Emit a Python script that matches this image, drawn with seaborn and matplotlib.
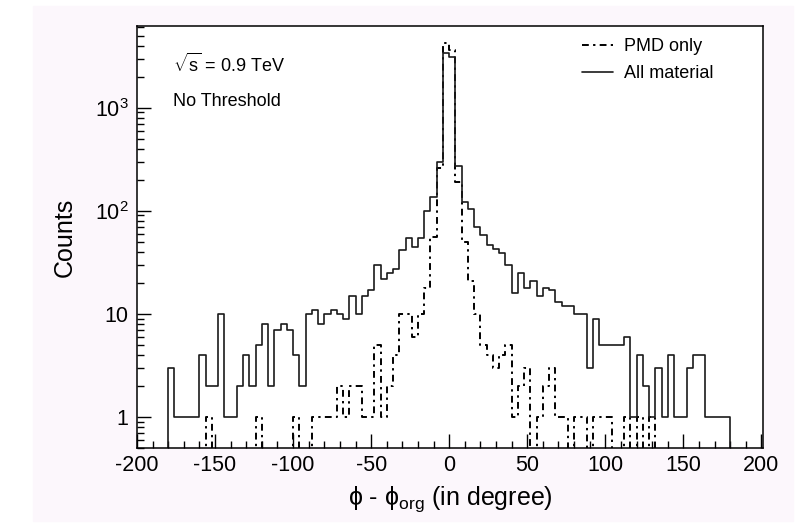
import numpy as np
import pandas as pd
import matplotlib
matplotlib.use("Agg")
import matplotlib.pyplot as plt
from matplotlib.lines import Line2D
from matplotlib.patches import Rectangle
from matplotlib.ticker import FixedLocator, MultipleLocator, LogLocator, NullFormatter
import seaborn as sns

# ───────────── data (4-degree bins from -180 to 180) ─────────────
phi_lo, phi_hi, bin_width = -180, 180, 4

all_material = [
    3, 1, 1, 1, 1, 4, 2, 2, 10, 1, 1, 2, 4, 2, 5, 8, 2, 7, 8, 7, 4, 2,
    10, 11, 8, 10, 11, 10, 9, 15, 10, 15, 17, 30, 22, 25, 27, 42, 55, 45, 55,
    100, 135, 300, 3400,
    3100, 270, 122, 105, 69, 58, 47, 43, 39, 30, 16, 25, 18, 21, 15, 18, 17,
    13, 12, 12, 10, 10, 3, 9, 5, 5, 5, 5, 6, 1, 4, 2, 1, 3, 1, 4, 1, 1, 3,
    4, 4, 1, 1, 1, 1,
]
pmd_only = [
    0, 0, 0, 0, 0, 0, 1, 0, 0, 0, 0, 0, 0, 0, 1, 0, 0, 0, 0, 0, 1, 0,
    0, 1, 1, 1, 1, 2, 1, 2, 2, 1, 1, 5, 1, 2, 4, 10, 10, 6, 10,
    18, 56, 260, 4200,
    3600, 190, 50, 21, 10, 5, 4, 3, 4, 5, 1, 2, 3, 0, 1, 2, 3,
    1, 1, 0, 1, 1, 0, 1, 1, 1, 0, 0, 1, 0, 1, 0, 1,
    0, 0, 0, 0, 0, 0, 0, 0, 0, 0, 0, 0,
]

x_ticks = [-200, -150, -100, -50, 0, 50, 100, 150, 200]
y_ticks = [1, 10, 100, 1000]
y_ticklabels = ["1", "10", "$10^2$", "$10^3$"]

# ───────────── layout ─────────────
W, H = 803, 527
sns.set_style("white")
plt.rcParams["font.family"] = ["Liberation Sans", "DejaVu Sans"]
plt.rcParams["mathtext.fontset"] = "custom"
plt.rcParams["mathtext.rm"] = "Liberation Sans"
plt.rcParams["mathtext.it"] = "Liberation Sans:italic"
plt.rcParams["axes.unicode_minus"] = False
plt.rcParams["text.color"] = "black"
plt.rcParams["axes.labelcolor"] = "black"
plt.rcParams["xtick.color"] = "black"
plt.rcParams["ytick.color"] = "black"

# one empty bin padded on each side so the outline drops to the floor like ROOT
pad_lo, pad_hi = phi_lo - bin_width, phi_hi + bin_width
centers = np.arange(pad_lo + bin_width / 2, pad_hi, bin_width)
df = pd.DataFrame({
    "phi": centers,
    "all": [0] + all_material + [0],
    "pmd": [0] + pmd_only + [0],
})

fig = plt.figure(figsize=(W / 100, H / 100), dpi=100, facecolor="white")
fig.patches.append(Rectangle((33 / W, 1 - 521 / H), (793 - 33) / W, (521 - 6) / H,
                             transform=fig.transFigure, color="#fcf7fc", zorder=-10))
ax = fig.add_axes([137 / W, 1 - 448 / H, (763 - 137) / W, (448 - 26) / H])
ax.set_facecolor("white")

dashdot = (0, (3.5, 2.2, 1.2, 2.2))
hist_kw = dict(x="phi", binwidth=bin_width, binrange=(pad_lo, pad_hi),
               element="step", fill=False, ax=ax)
sns.histplot(data=df, weights="pmd", color="black", linewidth=1.4,
             linestyle=dashdot, **hist_kw)
sns.histplot(data=df, weights="all", color="#1a1a1a", linewidth=1.2, **hist_kw)

ax.set_yscale("log")
ax.set_xlim(-200, 201)
ax.set_ylim(0.5, 6200)

ax.xaxis.set_major_locator(FixedLocator(x_ticks))
ax.xaxis.set_minor_locator(MultipleLocator(10))
ax.set_yticks(y_ticks)
ax.set_yticklabels(y_ticklabels)
ax.yaxis.set_minor_locator(LogLocator(base=10, subs=np.arange(2, 10)))
ax.yaxis.set_minor_formatter(NullFormatter())

ax.tick_params(axis="both", which="both", direction="in", bottom=True, left=True,
               top=False, right=False, color="black", width=1.0)
ax.tick_params(axis="x", which="major", length=10, labelsize=15.5, pad=5)
ax.tick_params(axis="x", which="minor", length=5)
ax.tick_params(axis="y", which="major", length=10, labelsize=15.5, pad=6)
ax.tick_params(axis="y", which="minor", length=5)

for s in ax.spines.values():
    s.set_visible(True)
    s.set_color("black")
    s.set_linewidth(1.1)

ax.set_xlabel("ϕ - ϕ$_{\\rm org}$ (in degree)", fontsize=18, labelpad=6)
ax.set_ylabel("Counts", fontsize=18, labelpad=13)

ax.text(0.058, 0.908, r"$\sqrt{\rm s}$ = 0.9 TeV", transform=ax.transAxes,
        fontsize=13, va="center", ha="left")
ax.text(0.058, 0.82, "No Threshold", transform=ax.transAxes,
        fontsize=13, va="center", ha="left")

handles = [
    Line2D([], [], color="black", linewidth=1.4, linestyle=dashdot),
    Line2D([], [], color="#1a1a1a", linewidth=1.2),
]
ax.legend(handles, ["PMD only", "All material"], loc="upper left",
          bbox_to_anchor=(0.685, 1.01), frameon=False, fontsize=13,
          handlelength=1.7, handletextpad=0.6, labelspacing=0.55)

fig.savefig("out.png", dpi=100, facecolor=fig.get_facecolor())
